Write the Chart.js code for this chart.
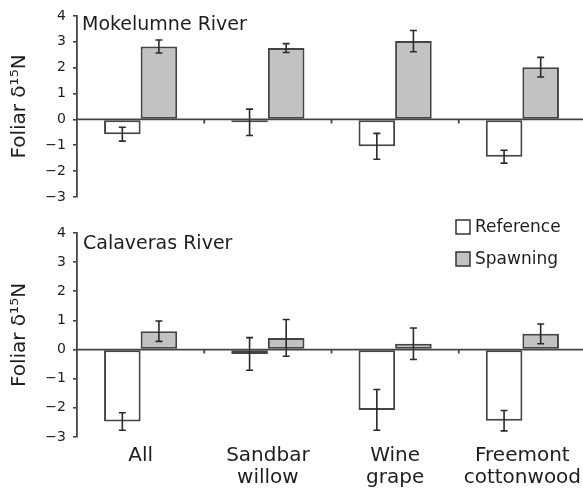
<!DOCTYPE html>
<html>
<head>
<meta charset="utf-8">
<script src="https://cdn.jsdelivr.net/npm/chart.js@4/dist/chart.umd.min.js"></script>
<style>
  html, body { margin: 0; padding: 0; background: #fff; }
  #wrap { position: relative; width: 583px; height: 492px; overflow: hidden; }
  canvas { position: absolute; left: 0; }
</style>
</head>
<body>
<div id="wrap">
  <canvas id="topChart" width="586" height="210" style="top:0"></canvas>
  <canvas id="bottomChart" width="586" height="282" style="top:210px"></canvas>
</div>
<script>
// data
const categories = ['All', ['Sandbar', 'willow'], ['Wine', 'grape'], ['Freemont', 'cottonwood']];
const seriesNames = ['Reference', 'Spawning'];
const yTicks = [-3, -2, -1, 0, 1, 2, 3, 4];
const yTitle = 'Foliar \u03b4\u00b9\u2075N';

const mokelumneReference = [-0.57, -0.11, -1.04, -1.44];
const mokelumneReferenceErr = [0.27, 0.51, 0.50, 0.25];
const mokelumneSpawning = [2.82, 2.76, 3.03, 2.02];
const mokelumneSpawningErr = [0.25, 0.17, 0.41, 0.38];

const calaverasReference = [-2.47, -0.15, -2.07, -2.44];
const calaverasReferenceErr = [0.30, 0.56, 0.70, 0.35];
const calaverasSpawning = [0.63, 0.40, 0.20, 0.54];
const calaverasSpawningErr = [0.35, 0.63, 0.54, 0.34];

const FONT = "'DejaVu Sans', Arial, sans-serif";
const INK = '#1e1e1e';
const LINE = '#444';

// error bars drawn from the y scale
const errorBars = {
  id: 'errorBars',
  afterDatasetsDraw(chart) {
    const { ctx } = chart;
    const y = chart.scales.y;
    chart.data.datasets.forEach((ds, i) => {
      if (!ds.errors) return;
      chart.getDatasetMeta(i).data.forEach((bar, j) => {
        const v = ds.data[j], e = ds.errors[j];
        const top = y.getPixelForValue(v + e);
        const bot = y.getPixelForValue(v - e);
        ctx.save();
        ctx.strokeStyle = '#2a2a2a';
        ctx.lineWidth = 1.6;
        ctx.beginPath();
        ctx.moveTo(bar.x, top); ctx.lineTo(bar.x, bot);
        ctx.moveTo(bar.x - 3.5, top); ctx.lineTo(bar.x + 3.5, top);
        ctx.moveTo(bar.x - 3.5, bot); ctx.lineTo(bar.x + 3.5, bot);
        ctx.stroke();
        ctx.restore();
      });
    });
  }
};

// zero line with small ticks between categories
const zeroLine = {
  id: 'zeroLine',
  afterDatasetsDraw(chart) {
    const { ctx, chartArea } = chart;
    const x = chart.scales.x, y = chart.scales.y;
    const y0 = y.getPixelForValue(0);
    ctx.save();
    ctx.strokeStyle = LINE;
    ctx.lineWidth = 1.8;
    ctx.beginPath();
    ctx.moveTo(chartArea.left, y0); ctx.lineTo(chartArea.right, y0);
    for (let i = 1; i < categories.length; i++) {
      const bx = (x.getPixelForValue(i - 1) + x.getPixelForValue(i)) / 2;
      ctx.moveTo(bx, y0); ctx.lineTo(bx, y0 + 4);
    }
    ctx.stroke();
    ctx.restore();
  }
};

// river name inside the plot
const panelTitle = {
  id: 'panelTitle',
  afterDraw(chart, args, opts) {
    if (!opts.text) return;
    const { ctx, chartArea } = chart;
    ctx.save();
    ctx.fillStyle = INK;
    ctx.font = '19px ' + FONT;
    ctx.textBaseline = 'alphabetic';
    ctx.fillText(opts.text, chartArea.left + opts.dx, chartArea.top + opts.dy);
    ctx.restore();
  }
};

// boxed legend in the upper right
const boxLegend = {
  id: 'boxLegend',
  afterDraw(chart, args, opts) {
    if (!opts.display) return;
    const { ctx } = chart;
    const items = Chart.defaults.plugins.legend.labels.generateLabels(chart);
    ctx.save();
    ctx.font = '17px ' + FONT;
    ctx.textBaseline = 'middle';
    items.forEach((it, k) => {
      const cy = opts.y + k * opts.rowGap;
      ctx.fillStyle = it.fillStyle;
      ctx.fillRect(opts.x, cy - 7, 14, 14);
      ctx.strokeStyle = '#333';
      ctx.lineWidth = 1.5;
      ctx.strokeRect(opts.x, cy - 7, 14, 14);
      ctx.fillStyle = INK;
      ctx.fillText(it.text, opts.x + 19, cy + 1);
    });
    ctx.restore();
  }
};

function makeDatasets(ref, refErr, spa, spaErr) {
  return [
    { label: seriesNames[0], data: ref, errors: refErr, backgroundColor: '#ffffff' },
    { label: seriesNames[1], data: spa, errors: spaErr, backgroundColor: '#c2c2c2' }
  ].map(d => Object.assign(d, {
    borderColor: LINE, borderWidth: 2, borderSkipped: false,
    categoryPercentage: 0.575, barPercentage: 1
  }));
}

function yScale() {
  return {
    min: -3, max: 4,
    afterBuildTicks: s => { s.ticks = yTicks.map(v => ({ value: v })); },
    afterFit: s => { s.width = 77; s.paddingTop = 0; s.paddingBottom = 0; },
    border: { display: true, color: LINE, width: 1.8 },
    grid: {
      color: 'rgba(0,0,0,0)',
      tickColor: LINE, tickLength: 4, lineWidth: 1.6
    },
    ticks: {
      padding: 7, color: INK, autoSkip: false, font: { family: FONT, size: 14 },
      callback: v => v < 0 ? '\u2212' + Math.abs(v) : String(v)
    },
    title: {
      display: true, text: yTitle, color: INK,
      font: { family: FONT, size: 20 }, padding: { top: 8, bottom: 0 }
    }
  };
}

function makeChart(id, datasets, opts) {
  return new Chart(document.getElementById(id), {
    type: 'bar',
    data: { labels: categories, datasets },
    options: {
      responsive: false,
      animation: false,
      layout: { padding: opts.padding },
      plugins: {
        legend: { display: false },
        tooltip: { enabled: false },
        panelTitle: opts.title,
        boxLegend: opts.legend
      },
      scales: {
        x: {
          display: opts.showX,
          offset: true,
          grid: { display: false, drawTicks: false },
          border: { display: false },
          ticks: {
            padding: 8, color: INK, maxRotation: 0, autoSkip: false,
            font: { family: FONT, size: 20, lineHeight: 1.1 }
          },
          afterFit: s => {
            s.height = opts.showX ? 55 : 0;
            s.paddingLeft = 0; s.paddingRight = 0;
          }
        },
        y: yScale()
      }
    },
    plugins: [errorBars, zeroLine, panelTitle, boxLegend]
  });
}

makeChart('topChart',
  makeDatasets(mokelumneReference, mokelumneReferenceErr, mokelumneSpawning, mokelumneSpawningErr),
  {
    padding: { top: 16, bottom: 13, left: 0, right: 0 },
    showX: false,
    title: { text: 'Mokelumne River', dx: 5, dy: 14 },
    legend: { display: false }
  });

makeChart('bottomChart',
  makeDatasets(calaverasReference, calaverasReferenceErr, calaverasSpawning, calaverasSpawningErr),
  {
    padding: { top: 23, bottom: 0, left: 0, right: 0 },
    showX: true,
    title: { text: 'Calaveras River', dx: 6, dy: 16 },
    legend: { display: true, x: 456, y: 17, rowGap: 32 }
  });
</script>
</body>
</html>
